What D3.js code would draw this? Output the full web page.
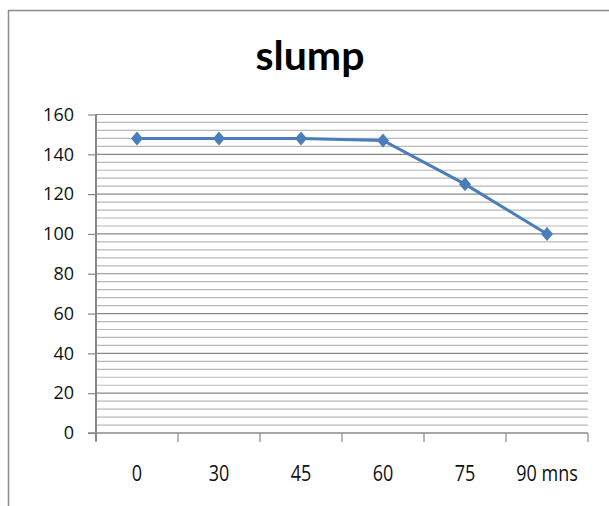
<!DOCTYPE html>
<html>
<head>
<meta charset="utf-8">
<script src="https://cdn.jsdelivr.net/npm/d3@7"></script>
<style>
  body { margin: 0; background: #fff; }
  svg { display: block; }
</style>
</head>
<body>
<div id="chart"></div>
<script>
// data
var categories = ["0", "30", "45", "60", "75", "90 mns"];
var slump = [148, 148, 148, 147, 125, 100];
var yTicks = [0, 20, 40, 60, 80, 100, 120, 140, 160];

var width = 609, height = 506;
var margin = { top: 114.5, right: 21, bottom: 73, left: 96 };

var svg = d3.select("#chart").append("svg")
    .attr("width", width)
    .attr("height", height);

// chart border (runs off the right and bottom)
svg.append("rect")
    .attr("x", 8.5).attr("y", 10.5)
    .attr("width", 700).attr("height", 600)
    .attr("fill", "none")
    .attr("stroke", "#8c8c8c")
    .attr("stroke-width", 1.5);

svg.append("text")
    .attr("x", 310).attr("y", 70)
    .attr("text-anchor", "middle")
    .attr("font-family", "Lato, 'Open Sans', sans-serif")
    .attr("font-weight", "bold")
    .attr("font-size", 41)
    .text("slump");

var x = d3.scaleBand()
    .domain(categories)
    .range([margin.left, width - margin.right]);

var y = d3.scaleLinear()
    .domain([0, 160])
    .range([height - margin.bottom, margin.top]);

// minor gridlines every 4
var minor = d3.range(4, 160, 4).filter(function (d) { return d % 20 !== 0; });
svg.append("g").selectAll("line")
    .data(minor)
    .enter().append("line")
    .attr("x1", margin.left).attr("x2", width - margin.right)
    .attr("y1", function (d) { return y(d); })
    .attr("y2", function (d) { return y(d); })
    .attr("stroke", "#b8b8b8")
    .attr("stroke-width", 1.2);

// major gridlines
svg.append("g").selectAll("line")
    .data(yTicks.slice(1))
    .enter().append("line")
    .attr("x1", margin.left).attr("x2", width - margin.right)
    .attr("y1", function (d) { return y(d); })
    .attr("y2", function (d) { return y(d); })
    .attr("stroke", "#888")
    .attr("stroke-width", 1.2);

// y axis
var yAxis = svg.append("g")
    .attr("transform", "translate(" + margin.left + ",0)")
    .call(d3.axisLeft(y).tickValues(yTicks).tickSize(8).tickPadding(14));

// x axis with ticks between categories
var xAxis = svg.append("g")
    .attr("transform", "translate(0," + y(0) + ")")
    .call(d3.axisBottom(x).tickSize(0));

var bounds = categories.map(function (c) { return x(c); }).concat([x.range()[1]]);
xAxis.selectAll(".sep")
    .data(bounds)
    .enter().append("line")
    .attr("class", "sep")
    .attr("x1", function (d) { return d; }).attr("x2", function (d) { return d; })
    .attr("y1", 0).attr("y2", 9)
    .attr("stroke", "#888")
    .attr("stroke-width", 1.2);

[yAxis, xAxis].forEach(function (g) {
    g.selectAll(".domain").remove();
    g.selectAll(".tick line").attr("stroke", "#888").attr("stroke-width", 1.2);
    g.selectAll("text")
        .attr("font-family", "'Open Sans', Lato, sans-serif")
        .attr("font-size", 18)
        .attr("fill", "#111");
});

// x labels look a bit stretched vertically in the original
xAxis.selectAll(".tick text")
    .attr("y", 32)
    .attr("dy", "0.35em")
    .attr("transform", "scale(1,1.25)");

// axis lines
svg.append("line")
    .attr("x1", margin.left).attr("x2", margin.left)
    .attr("y1", margin.top).attr("y2", y(0) + 8)
    .attr("stroke", "#888").attr("stroke-width", 2);
svg.append("line")
    .attr("x1", margin.left - 8).attr("x2", width - margin.right)
    .attr("y1", y(0)).attr("y2", y(0))
    .attr("stroke", "#888").attr("stroke-width", 1.5);

// series line
var px = function (d, i) { return x(categories[i]) + x.bandwidth() / 2; };
var line = d3.line()
    .x(px)
    .y(function (d) { return y(d); });

svg.append("path")
    .datum(slump)
    .attr("d", line)
    .attr("fill", "none")
    .attr("stroke", "#4a7ebb")
    .attr("stroke-width", 3);

svg.append("g").selectAll("path")
    .data(slump)
    .enter().append("path")
    .attr("d", "M0,-7L6,0L0,7L-6,0Z")
    .attr("transform", function (d, i) { return "translate(" + px(d, i) + "," + y(d) + ")"; })
    .attr("fill", "#4a7ebb");
</script>
</body>
</html>
